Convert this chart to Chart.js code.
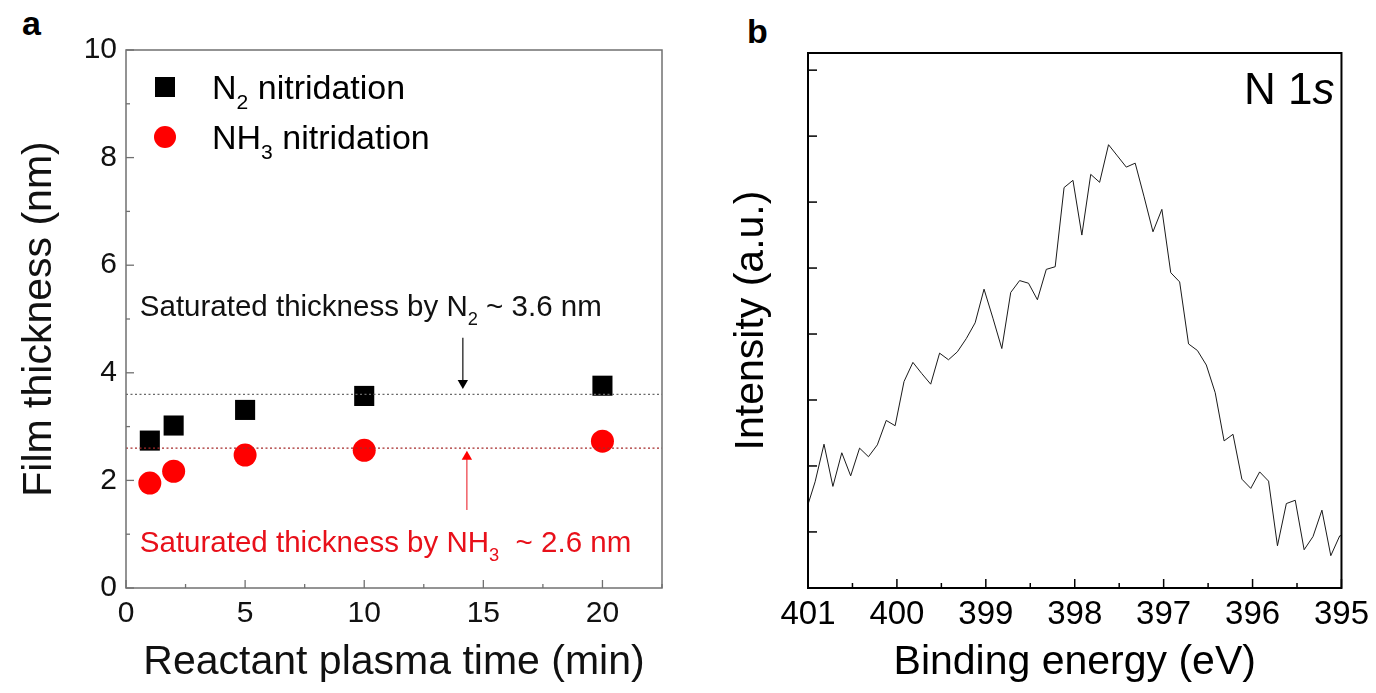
<!DOCTYPE html>
<html>
<head>
<meta charset="utf-8">
<script src="https://cdn.jsdelivr.net/npm/chart.js@4.4.0/dist/chart.umd.min.js"></script>
<style>
  body { margin: 0; background: #fff; width: 1376px; height: 693px; overflow: hidden; position: relative; font-family: 'Liberation Sans', Arial, sans-serif; }
  .painel { position: absolute; top: 0; height: 693px; }
  #painel_a { left: 0; width: 690px; }
  #painel_b { left: 690px; width: 686px; }
  .letra { position: absolute; font-weight: bold; font-size: 34px; line-height: 34px; }
</style>
</head>
<body>
<div class="letra" style="left:22px; top:6px;">a</div>
<div class="letra" style="left:747px; top:14px;">b</div>
<div class="painel" id="painel_a"><canvas id="grafico_a"></canvas></div>
<div class="painel" id="painel_b"><canvas id="grafico_b"></canvas></div>

<script>
// Dados do painel a: espessura do filme x tempo de plasma
const tempos = [1, 2, 5, 10, 20];
const espessura_n2 = [2.74, 3.02, 3.31, 3.57, 3.76];
const espessura_nh3 = [1.95, 2.17, 2.47, 2.56, 2.73];
const saturacao_n2 = 3.6;
const saturacao_nh3 = 2.6;
const rotulos_x_a = [0, 5, 10, 15, 20];
const rotulos_y_a = [0, 2, 4, 6, 8, 10];
// Setas: posição x e [início, ponta] em y (unidades do gráfico)
const seta_n2_x = 14.14;
const seta_n2_y = [4.65, 3.81];
const seta_nh3_x = 14.31;
const seta_nh3_y = [1.45, 2.44];

// Dados do painel b: espectro N 1s
const energias = [401.02, 400.92, 400.82, 400.72, 400.62, 400.52, 400.42, 400.32, 400.22, 400.12,
  400.02, 399.92, 399.82, 399.72, 399.62, 399.52, 399.42, 399.32, 399.22, 399.12,
  399.02, 398.92, 398.82, 398.72, 398.62, 398.52, 398.42, 398.32, 398.22, 398.12,
  398.02, 397.92, 397.82, 397.72, 397.62, 397.52, 397.42, 397.32, 397.22, 397.12,
  397.02, 396.92, 396.82, 396.72, 396.62, 396.52, 396.42, 396.32, 396.22, 396.12,
  396.02, 395.92, 395.82, 395.72, 395.62, 395.52, 395.42, 395.32, 395.22, 395.12,
  395.02, 394.92];
const intensidade = [1.33, 1.76, 2.33, 1.69, 2.20, 1.85, 2.27, 2.14, 2.32, 2.69,
  2.61, 3.28, 3.57, 3.40, 3.24, 3.71, 3.61, 3.73, 3.93, 4.17,
  4.68, 4.24, 3.78, 4.63, 4.81, 4.77, 4.52, 4.98, 5.02, 6.22,
  6.33, 5.50, 6.42, 6.30, 6.87, 6.70, 6.53, 6.59, 6.08, 5.55,
  5.89, 4.93, 4.79, 3.85, 3.75, 3.53, 3.11, 2.38, 2.48, 1.80,
  1.66, 1.91, 1.77, 0.79, 1.43, 1.48, 0.73, 0.93, 1.33, 0.64,
  0.94, 0.97];
const rotulos_x_b = [401, 400, 399, 398, 397, 396, 395];

const FONTE = "'Liberation Sans', Arial, sans-serif";
const VERMELHO = '#ff0000';
Chart.defaults.color = '#000';
Chart.defaults.font.family = FONTE;
Chart.defaults.animation = false;

// Escreve um texto com partes em subscrito ou itálico, a partir de (x, y) na linha de base
function escreveTexto(ctx, partes, x, y, tamanho, cor) {
  ctx.fillStyle = cor;
  ctx.textBaseline = 'alphabetic';
  ctx.textAlign = 'left';
  partes.forEach(([texto, tipo]) => {
    let t = tamanho, dy = 0, estilo = '';
    if (tipo === 'sub') { t = tamanho * 0.62; dy = tamanho * 0.3; }
    if (tipo === 'it') estilo = 'italic ';
    ctx.font = estilo + t + 'px ' + FONTE;
    ctx.fillText(texto, x, y + dy);
    x += ctx.measureText(texto).width;
  });
  return x;
}

function larguraTexto(ctx, partes, tamanho) {
  let w = 0;
  partes.forEach(([texto, tipo]) => {
    const t = tipo === 'sub' ? tamanho * 0.62 : tamanho;
    ctx.font = (tipo === 'it' ? 'italic ' : '') + t + 'px ' + FONTE;
    w += ctx.measureText(texto).width;
  });
  return w;
}

// Moldura e marcas de escala voltadas para dentro
const moldura = {
  id: 'moldura',
  afterDatasetsDraw(chart, args, opts) {
    const { ctx, chartArea: a } = chart;
    const sx = chart.scales.x, sy = chart.scales.y;
    ctx.save();
    ctx.strokeStyle = opts.cor;
    ctx.lineWidth = opts.largura;
    ctx.strokeRect(a.left, a.top, a.right - a.left, a.bottom - a.top);
    ctx.lineWidth = opts.larguraTick;
    sx.ticks.forEach(t => {
      const p = sx.getPixelForValue(t.value);
      const len = opts.maiorX(t.value) ? opts.tickMaior : opts.tickMenor;
      ctx.beginPath(); ctx.moveTo(p, a.bottom); ctx.lineTo(p, a.bottom - len); ctx.stroke();
    });
    sy.ticks.forEach(t => {
      const p = sy.getPixelForValue(t.value);
      const len = opts.maiorY(t.value) ? opts.tickMaior : opts.tickMenor;
      ctx.beginPath(); ctx.moveTo(a.left, p); ctx.lineTo(a.left + len, p); ctx.stroke();
    });
    ctx.restore();
  }
};

// Legenda e anotações do painel a
const anotacoes_a = {
  id: 'anotacoes_a',
  afterDraw(chart) {
    const { ctx, scales: { x, y } } = chart;
    ctx.save();
    // legenda
    ctx.fillStyle = '#000';
    ctx.fillRect(155, 77, 20, 20);
    escreveTexto(ctx, [['N', ''], ['2', 'sub'], [' nitridation', '']], 212, 99, 34, '#000');
    ctx.fillStyle = VERMELHO;
    ctx.beginPath(); ctx.arc(165, 137, 11, 0, Math.PI * 2); ctx.fill();
    escreveTexto(ctx, [['NH', ''], ['3', 'sub'], [' nitridation', '']], 212, 149, 34, '#000');
    // textos de saturação
    escreveTexto(ctx, [['Saturated thickness by N', ''], ['2', 'sub'], [' ~ 3.6 nm', '']],
      x.getPixelForValue(0.58), y.getPixelForValue(5.06), 29.5, '#111');
    escreveTexto(ctx, [['Saturated thickness by NH', ''], ['3', 'sub'], ['  ~ 2.6 nm', '']],
      x.getPixelForValue(0.58), y.getPixelForValue(0.66), 29.5, '#e8101a');
    ctx.restore();
  }
};

// Rótulo "N 1s" do painel b
const anotacoes_b = {
  id: 'anotacoes_b',
  afterDraw(chart) {
    const { ctx, chartArea: a } = chart;
    const partes = [['N 1', ''], ['s', 'it']];
    const w = larguraTexto(ctx, partes, 44);
    ctx.save();
    escreveTexto(ctx, partes, a.right - 7 - w, a.top + 51, 44, '#000');
    ctx.restore();
  }
};

const pontos = (xs, ys) => xs.map((v, i) => ({ x: v, y: ys[i] }));

const grafico_a = new Chart(document.getElementById('grafico_a').getContext('2d'), {
  type: 'scatter',
  data: {
    datasets: [
      {
        data: [{ x: 0, y: saturacao_n2 }, { x: 22.5, y: saturacao_n2 }],
        showLine: true, borderColor: '#6a6a6a', borderWidth: 1.2, borderDash: [2, 2.5], pointRadius: 0
      },
      {
        data: [{ x: 0, y: saturacao_nh3 }, { x: 22.5, y: saturacao_nh3 }],
        showLine: true, borderColor: '#a52a2a', borderWidth: 1.2, borderDash: [2, 2.5], pointRadius: 0
      },
      {
        data: seta_n2_y.map(v => ({ x: seta_n2_x, y: v })),
        showLine: true, borderColor: '#222', borderWidth: 1.3,
        pointRadius: [0, 6], pointStyle: 'triangle', rotation: 180,
        pointBackgroundColor: '#000', pointBorderWidth: 0
      },
      {
        data: seta_nh3_y.map(v => ({ x: seta_nh3_x, y: v })),
        showLine: true, borderColor: '#e8101a', borderWidth: 1,
        pointRadius: [0, 6], pointStyle: 'triangle', rotation: 0,
        pointBackgroundColor: VERMELHO, pointBorderWidth: 0
      },
      {
        label: 'N2 nitridation',
        data: pontos(tempos, espessura_n2),
        pointStyle: 'rect', pointRadius: 14.2, pointBackgroundColor: '#000', pointBorderWidth: 0
      },
      {
        label: 'NH3 nitridation',
        data: pontos(tempos, espessura_nh3),
        pointStyle: 'circle', pointRadius: 11.5, pointBackgroundColor: VERMELHO, pointBorderWidth: 0
      }
    ]
  },
  options: {
    responsive: true,
    maintainAspectRatio: false,
    layout: { padding: { left: 0, right: 28, top: 50, bottom: 0 } },
    plugins: {
      legend: { display: false },
      tooltip: { enabled: false },
      moldura: {
        cor: '#707070', largura: 1.5, larguraTick: 1.3, tickMaior: 8, tickMenor: 4,
        maiorX: v => rotulos_x_a.includes(v), maiorY: v => rotulos_y_a.includes(v)
      }
    },
    scales: {
      x: {
        type: 'linear', min: 0, max: 22.5,
        grid: { display: false, drawTicks: false }, border: { display: false },
        ticks: {
          stepSize: 2.5, autoSkip: false, maxRotation: 0, padding: 8,
          font: { size: 30 }, color: '#111',
          callback: v => rotulos_x_a.includes(v) ? String(v) : ''
        },
        title: { display: true, text: 'Reactant plasma time (min)', font: { size: 41 }, color: '#111', padding: { top: 0, bottom: 6 } },
        afterFit: s => { s.height = 105; }
      },
      y: {
        type: 'linear', min: 0, max: 10,
        grid: { display: false, drawTicks: false }, border: { display: false },
        ticks: {
          stepSize: 1, autoSkip: false, padding: 9,
          font: { size: 30 }, color: '#111',
          callback: v => rotulos_y_a.includes(v) ? String(v) : ''
        },
        title: { display: true, text: 'Film thickness (nm)', font: { size: 41 }, color: '#111', padding: { top: 15, bottom: 0 } },
        afterFit: s => { s.width = 126; }
      }
    }
  },
  plugins: [moldura, anotacoes_a]
});

const grafico_b = new Chart(document.getElementById('grafico_b').getContext('2d'), {
  type: 'line',
  data: {
    datasets: [{
      label: 'N 1s',
      data: pontos(energias, intensidade),
      borderColor: '#1a1a1a', borderWidth: 1, pointRadius: 0, tension: 0
    }]
  },
  options: {
    responsive: true,
    maintainAspectRatio: false,
    layout: { padding: { left: 0, right: 31, top: 53, bottom: 0 } },
    plugins: {
      legend: { display: false },
      tooltip: { enabled: false },
      moldura: {
        cor: '#000', largura: 2, larguraTick: 1.5, tickMaior: 9, tickMenor: 5,
        maiorX: v => rotulos_x_b.includes(v), maiorY: v => true
      }
    },
    scales: {
      x: {
        type: 'linear', min: 395, max: 401, reverse: true,
        grid: { display: false, drawTicks: false }, border: { display: false },
        ticks: {
          stepSize: 0.5, autoSkip: false, maxRotation: 0, padding: 7,
          font: { size: 33 },
          callback: v => rotulos_x_b.includes(v) ? String(v) : ''
        },
        title: { display: true, text: 'Binding energy (eV)', font: { size: 41 }, padding: { top: 0, bottom: 6 } },
        afterFit: s => { s.height = 105; }
      },
      y: {
        type: 'linear', min: 0.15, max: 8.26,
        grid: { display: false, drawTicks: false }, border: { display: false },
        ticks: { stepSize: 1, includeBounds: false, display: false },
        title: { display: true, text: 'Intensity (a.u.)', font: { size: 41 }, padding: { top: 37, bottom: 0 } },
        afterFit: s => { s.width = 118; }
      }
    }
  },
  plugins: [moldura, anotacoes_b]
});
</script>
</body>
</html>
